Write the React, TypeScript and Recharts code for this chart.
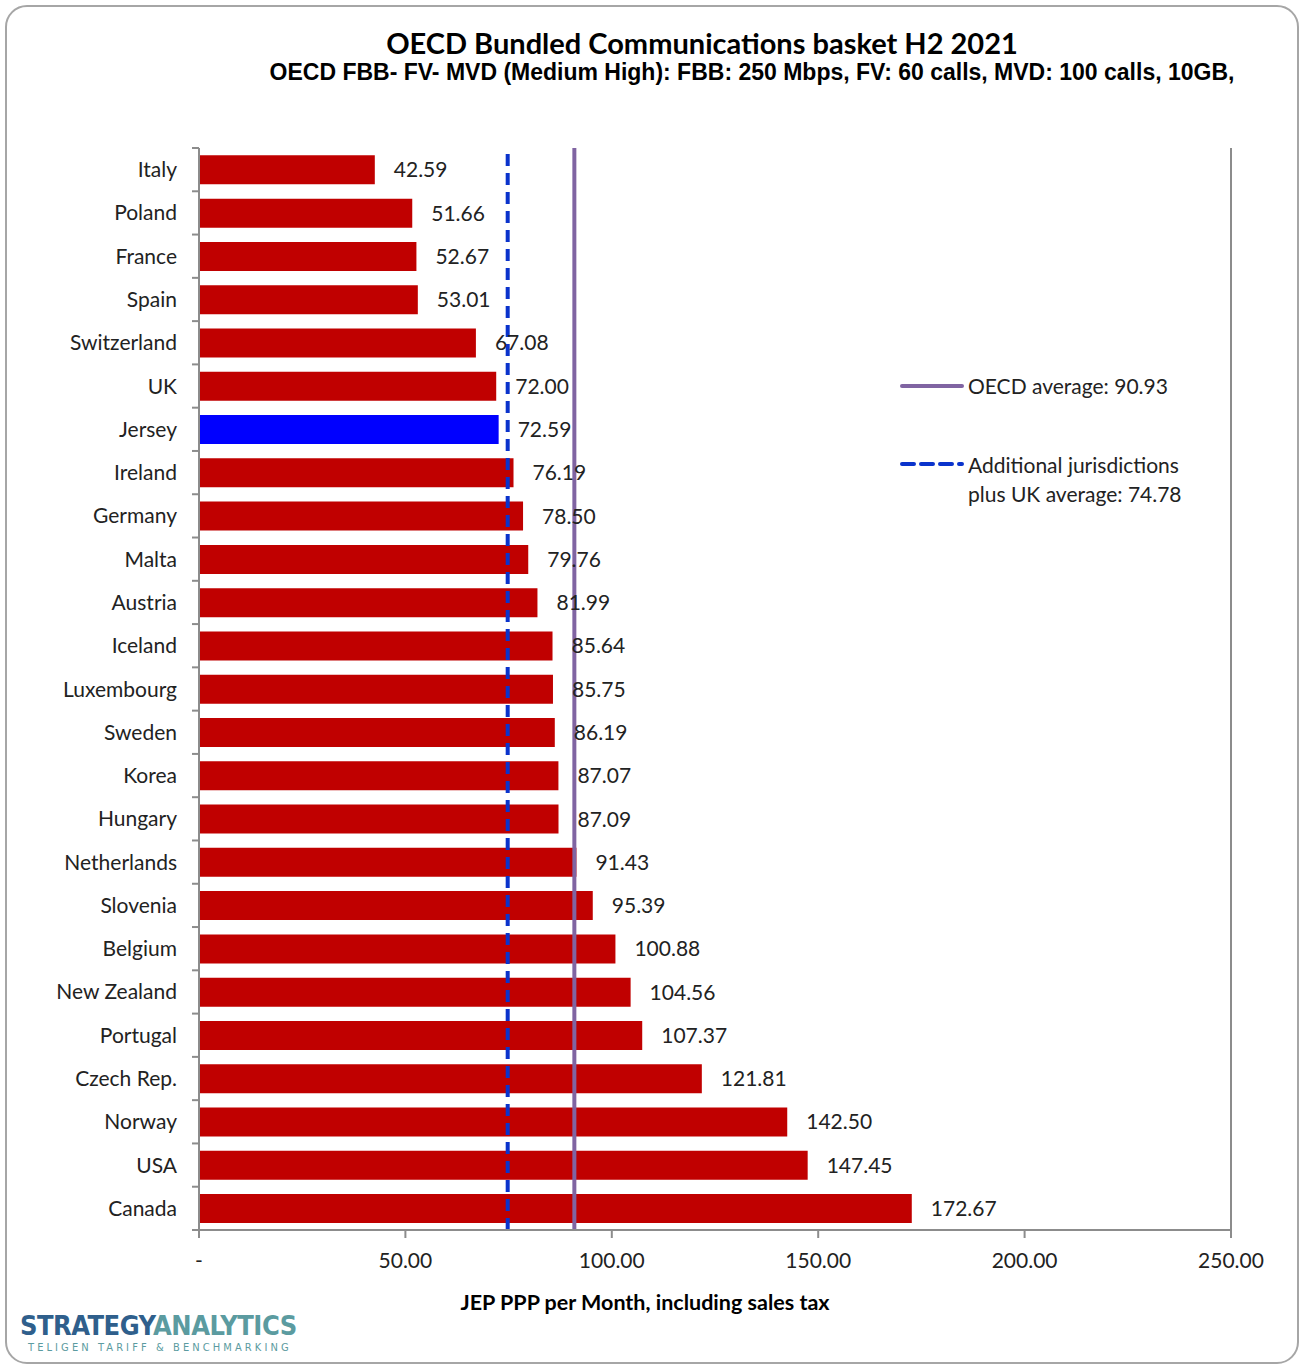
import React from 'react';
import { BarChart, Bar, XAxis, YAxis, Cell, LabelList, ReferenceLine, Legend, Label } from 'recharts';

const countries = ['Italy', 'Poland', 'France', 'Spain', 'Switzerland', 'UK', 'Jersey', 'Ireland', 'Germany', 'Malta', 'Austria', 'Iceland', 'Luxembourg', 'Sweden', 'Korea', 'Hungary', 'Netherlands', 'Slovenia', 'Belgium', 'New Zealand', 'Portugal', 'Czech Rep.', 'Norway', 'USA', 'Canada'];
const prices = [42.59, 51.66, 52.67, 53.01, 67.08, 72.0, 72.59, 76.19, 78.5, 79.76, 81.99, 85.64, 85.75, 86.19, 87.07, 87.09, 91.43, 95.39, 100.88, 104.56, 107.37, 121.81, 142.5, 147.45, 172.67];
const xTicks = [0, 50, 100, 150, 200, 250];
const oecdAverage = 90.93;
const jurisdictionsAverage = 74.78;
const highlight = 'Jersey';

const data = countries.map((c, i) => ({ country: c, price: prices[i] }));

const W = 1299;
const H = 1366;
const PLOT_TOP = 148;
const PLOT_BOTTOM = 1230;
const PLOT_LEFT = 199;
const PLOT_RIGHT = 1231;
const Y_AXIS_W = 60;
const X_AXIS_H = 90;
const BAND = (PLOT_BOTTOM - PLOT_TOP) / countries.length;

const FONT = 'Lato, "Open Sans", sans-serif';
const RED = '#c00000';
const BLUE = '#0000ff';
const PURPLE = '#8064a2';
const DASH_BLUE = '#0a33cc';
const AXIS = '#8c8c8c';

function CountryTick(props: any) {
  const { x, y, payload, index } = props;
  return (
    <g>
      <text x={x - 22} y={y - 1} textAnchor="end" dominantBaseline="central" fontSize={21} fill="#222" fontFamily={FONT}>
        {payload.value}
      </text>
      <line x1={x - 7} x2={x} y1={y - BAND / 2} y2={y - BAND / 2} stroke={AXIS} strokeWidth={2} />
      {index === countries.length - 1 && (
        <line x1={x - 7} x2={x} y1={y + BAND / 2} y2={y + BAND / 2} stroke={AXIS} strokeWidth={2} />
      )}
    </g>
  );
}

function LegendBox() {
  const text = { fontSize: 21, color: '#222', fontFamily: FONT, lineHeight: '29px' } as React.CSSProperties;
  return (
    <div style={{ width: 320 }}>
      <div style={{ display: 'flex', alignItems: 'center' }}>
        <svg width={70} height={10}>
          <line x1={4} x2={64} y1={5} y2={5} stroke={PURPLE} strokeWidth={4} strokeLinecap="round" />
        </svg>
        <span style={text}>OECD average: {oecdAverage.toFixed(2)}</span>
      </div>
      <div style={{ display: 'flex', alignItems: 'flex-start', marginTop: 50 }}>
        <svg width={70} height={29}>
          <line x1={4} x2={64} y1={14} y2={14} stroke={DASH_BLUE} strokeWidth={4} strokeDasharray="12 7" strokeLinecap="round" />
        </svg>
        <span style={text}>
          Additional jurisdictions
          <br />
          plus UK average: {jurisdictionsAverage.toFixed(2)}
        </span>
      </div>
    </div>
  );
}

export default function App() {
  return (
    <div style={{ position: 'absolute', left: 0, top: 0, width: W, height: H, background: '#fff', fontFamily: FONT }}>
      <div style={{ position: 'absolute', left: 5, top: 5, width: 1290, height: 1355, border: '2px solid #a6a6a6', borderRadius: 22 }} />
      <div style={{ position: 'absolute', left: 0, width: 1404, top: 25, textAlign: 'center', fontSize: 29, fontWeight: 700, color: '#000' }}>
        OECD Bundled Communications basket H2 2021
      </div>
      <div style={{ position: 'absolute', left: 0, width: 1504, top: 59, textAlign: 'center', fontSize: 23, fontWeight: 700, color: '#000', fontFamily: '"Liberation Sans", Arial, sans-serif' }}>
        OECD FBB- FV- MVD (Medium High): FBB: 250 Mbps, FV: 60 calls, MVD: 100 calls, 10GB,
      </div>
      <BarChart
        width={W}
        height={H}
        data={data}
        layout="vertical"
        barCategoryGap="17%"
        margin={{ top: PLOT_TOP, bottom: H - PLOT_BOTTOM - X_AXIS_H, left: PLOT_LEFT - Y_AXIS_W, right: W - PLOT_RIGHT }}
      >
        <XAxis
          type="number"
          domain={[0, 250]}
          ticks={xTicks}
          height={X_AXIS_H}
          tickSize={8}
          tickMargin={15}
          stroke={AXIS}
          axisLine={{ stroke: AXIS, strokeWidth: 2 }}
          tickLine={{ stroke: AXIS, strokeWidth: 2 }}
          tick={{ fontSize: 21, fill: '#222', fontFamily: FONT }}
          tickFormatter={(v: number) => (v === 0 ? '-' : v.toFixed(2))}
        >
          <Label value="JEP PPP per Month, including sales tax" position="insideBottom" offset={10} dx={-70} style={{ fontSize: 21.5, fontWeight: 700, fill: '#000', fontFamily: FONT }} />
        </XAxis>
        <YAxis
          type="category"
          dataKey="country"
          width={Y_AXIS_W}
          tickSize={0}
          tickMargin={0}
          tickLine={false}
          axisLine={{ stroke: AXIS, strokeWidth: 2 }}
          tick={<CountryTick />}
          interval={0}
        />
        <ReferenceLine x={250} stroke={AXIS} strokeWidth={2} />
        <Bar dataKey="price" isAnimationActive={false}>
          {data.map((d) => (
            <Cell key={d.country} fill={d.country === highlight ? BLUE : RED} />
          ))}
          <LabelList
            dataKey="price"
            position="right"
            offset={19}
            formatter={(v: any) => Number(v).toFixed(2)}
            style={{ fontSize: 21, fill: '#222', fontFamily: FONT }}
          />
        </Bar>
        <ReferenceLine x={oecdAverage} stroke={PURPLE} strokeWidth={4} />
        <ReferenceLine x={jurisdictionsAverage} stroke={DASH_BLUE} strokeWidth={4} strokeDasharray="12 7" />
        <Legend
          layout="vertical"
          align="center"
          verticalAlign="middle"
          wrapperStyle={{ left: 898, top: 371, width: 330 }}
          content={() => <LegendBox />}
        />
      </BarChart>
      <div style={{ position: 'absolute', left: 20, top: 1310, fontFamily: '"DejaVu Sans Condensed", "Liberation Sans Narrow", sans-serif' }}>
        <div style={{ fontSize: 27, fontWeight: 700, letterSpacing: -0.5, lineHeight: '32px' }}>
          <span style={{ color: '#2f5f8c' }}>STRATEGY</span>
          <span style={{ color: '#5b9ba0' }}>ANALYTICS</span>
        </div>
        <div style={{ fontSize: 11, color: '#5b9ba0', letterSpacing: 3.1, marginLeft: 8, lineHeight: '12px' }}>TELIGEN TARIFF &amp; BENCHMARKING</div>
      </div>
    </div>
  );
}
